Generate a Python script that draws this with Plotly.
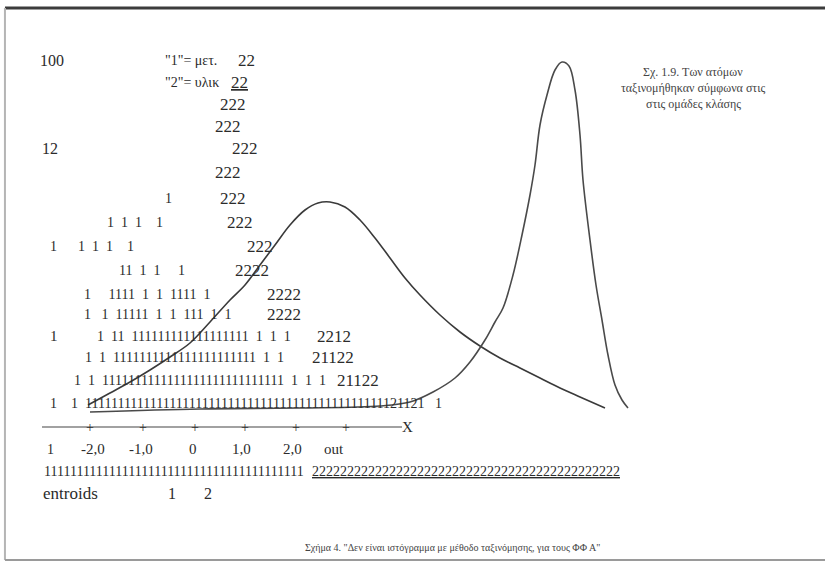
import plotly.graph_objects as go

# ---- curve data (horizontal position along the printout, height above bottom edge) ----
curve1_x = [88, 110, 130, 150, 170, 190, 210, 230, 245, 260, 275, 290, 305, 318, 330,
            345, 360, 375, 390, 405, 420, 440, 460, 480, 500, 520, 540, 560, 580, 605]
curve1_y = [159, 171, 182, 194, 207, 221, 242, 264, 279, 299, 319, 339, 354, 361, 362,
            357, 344, 326, 306, 286, 269, 249, 232, 218, 206, 196, 186, 176, 167, 156]

curve2_x = [90, 200, 300, 380, 410, 433, 455, 470, 485, 495, 503, 513, 522, 530, 535,
            540, 547, 555, 562, 569, 575, 580, 583, 590, 596, 602, 608, 615, 622, 628]
curve2_y = [152, 155, 156, 158, 162, 172, 186, 202, 224, 242, 256, 289, 329, 369, 399,
            439, 469, 494, 502, 498, 474, 429, 384, 324, 279, 244, 209, 179, 164, 156]

# ---- text histogram rows (group 1 marks / group 2 marks) ----
hist_ones = [
    "1",
    "1  1  1    1",
    "1      1  1  1    1",
    "11  1  1     1",
    "1     1111  1  1  1111  1",
    "1   1  11111  1  1  111  1  1",
    "1  11  111111111111111111  1  1  1",
    "1  1  1111111111111111111111  1  1",
    "1  1  1111111111111111111111111111  1  1  1",
    "1    1  " + "1" * 46 + "121121   1",
]
hist_twos = ["222", "222", "222", "222", "2222", "2222", "2222", "2212", "21122", "21122", ""]

tick_labels = ["-2,0", "-1,0", "0", "1,0", "2,0", "out"]
legend_lines = ['"1"= μετ.', '"2"= υλικ']
y_labels = ["100", "12", "1", "1"]
classified_ones = "1" * 40
classified_twos = "2" * 44
centroid_labels = ["1", "2"]
note_lines = ["Σχ. 1.9. Των ατόμων", "ταξινομήθηκαν σύμφωνα στις", "στις ομάδες κλάσης"]
caption = 'Σχήμα 4. "Δεν είναι ιστόγραμμα με μέθοδο ταξινόμησης, για τους ΦΦ Α"'

# ---- positions / styles ----
H = 564
FONT = "Liberation Serif"
INK = "#2b2b2b"

fig = go.Figure()
fig.add_trace(go.Scatter(x=curve1_x, y=curve1_y, mode="lines",
                         line=dict(color="#3a3a3a", width=1.6, shape="spline"),
                         hoverinfo="skip", showlegend=False))
fig.add_trace(go.Scatter(x=curve2_x, y=curve2_y, mode="lines",
                         line=dict(color="#4a4a4a", width=1.6, shape="spline"),
                         hoverinfo="skip", showlegend=False))

ann = []


def txt(x, py, s, size=15, anchor="left", color=INK):
    ann.append(dict(x=x, y=H - py, text=s, xref="x", yref="y", showarrow=False,
                    xanchor=anchor, yanchor="middle",
                    font=dict(family=FONT, size=size, color=color)))


# upper "222" column and legend
txt(38, 60, y_labels[0], 16)
txt(163, 60, legend_lines[0], 14)
txt(236, 60, "22", 17)
txt(163, 82, legend_lines[1], 14)
txt(229, 82, "<span style='text-decoration:underline'>22</span>", 17)
upper_twos_pos = [(218, 104), (213, 126), (230, 148), (213, 172), (218, 198)]
for (x, py) in upper_twos_pos:
    txt(x, py, "222", 17)
txt(40, 148, y_labels[1], 16)

ones_pos = [(163, 198), (105, 222), (48, 246), (117, 270), (82, 294), (82, 314),
            (95, 336), (83, 357), (72, 380), (48, 403)]
twos_pos = [(225, 222), (245, 246), (233, 270), (265, 294), (265, 314),
            (315, 336), (310, 357), (335, 380)]
for (x, py), s in zip(ones_pos, hist_ones):
    txt(x, py, s, 14)
for (x, py), s in zip(twos_pos, hist_twos[2:]):
    txt(x, py, s, 17)
txt(48, 336, y_labels[3], 15)

# axis line drawn as a text-printout axis
fig.add_trace(go.Scatter(x=[42, 402], y=[H - 427, H - 427], mode="lines",
                         line=dict(color="#444", width=1.2), hoverinfo="skip", showlegend=False))
plus_pos = [90, 143, 195, 245, 296, 346]
for x in plus_pos:
    txt(x, 427, "+", 14, "center", "#333")
txt(400, 427, "X", 15)

txt(45, 449, "1", 14)
tick_pos = [93, 141, 193, 241, 292, 334]
for x, s in zip(tick_pos, tick_labels):
    txt(x, 449, s, 15, "center")

txt(42, 471, classified_ones, 14)
txt(310, 471, "<span style='text-decoration:underline'>" + classified_twos + "</span>", 14)

txt(41, 493, "entroids", 17)
for x, s in zip([172, 208], centroid_labels):
    txt(x, 493, s, 16, "center")

for py, s in zip([72, 88, 104], note_lines):
    txt(693, py, s, 12, "center", "#444")

txt(452, 548, caption, 10, "center", "#444")

shapes = [
    dict(type="line", xref="paper", yref="paper", x0=0.006, x1=1, y0=1 - 8 / H, y1=1 - 8 / H,
         line=dict(color="#3c3c3c", width=3)),
    dict(type="line", xref="paper", yref="paper", x0=0.006, x1=0.006, y0=1 - 8 / H, y1=1 - 560 / H,
         line=dict(color="#b5b5b5", width=2)),
    dict(type="line", xref="paper", yref="paper", x0=0.006, x1=1, y0=1 - 560 / H, y1=1 - 560 / H,
         line=dict(color="#9a9a9a", width=2)),
]

fig.update_layout(
    width=825, height=564,
    margin=dict(l=0, r=0, t=0, b=0),
    paper_bgcolor="white", plot_bgcolor="white",
    xaxis=dict(range=[0, 825], visible=False, fixedrange=True),
    yaxis=dict(range=[0, H], visible=False, fixedrange=True),
    annotations=ann, shapes=shapes,
)

fig.write_html("out.html", config={"displayModeBar": False},
               post_script="document.body.style.margin='0';document.body.style.overflow='hidden';")
